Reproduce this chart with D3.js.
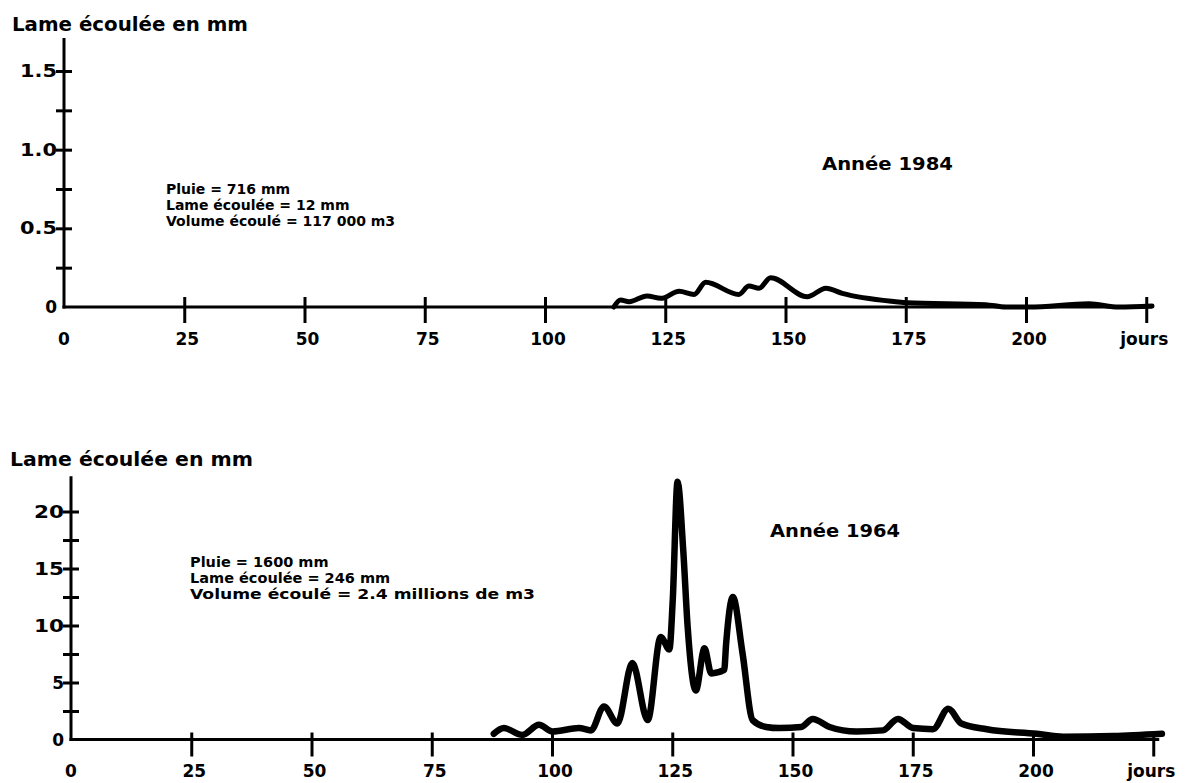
<!DOCTYPE html>
<html>
<head>
<meta charset="utf-8">
<script src="https://cdn.jsdelivr.net/npm/d3@7"></script>
<style>
  html, body { margin: 0; padding: 0; background: #fff; }
  svg { display: block; }
  text { font-family: "DejaVu Sans", "Liberation Sans", sans-serif; font-weight: bold; fill: #000; }
</style>
</head>
<body>
<svg id="chart" width="1188" height="783"></svg>
<script>
// Daily runoff depth (mm) read as (day, value) pairs
const days1984 = [114.3, 115.7, 117.5, 121.2, 124.1, 127.9, 131.0, 133.4, 140.3, 142.4, 144.5, 146.9, 154.5, 158.4, 161.8, 172.9, 175.3, 191.6, 195.8, 200.6, 213.1, 219.3, 226.2];
const runoff1984 = [0, 0.045, 0.034, 0.07, 0.055, 0.10, 0.08, 0.157, 0.08, 0.133, 0.119, 0.186, 0.065, 0.119, 0.087, 0.034, 0.027, 0.015, 0, 0, 0.02, 0, 0.006];

const days1964 = [87.9, 90.0, 93.8, 97.3, 100.1, 105.6, 108.1, 110.8, 113.6, 116.7, 119.9, 122.6, 124.4, 125.1, 126.1, 127.3, 128.2, 129.9, 131.7, 133.1, 135.8, 136.2, 137.6, 139.6, 141.7, 144.5, 147.3, 151.8, 154.2, 157.7, 163.3, 168.8, 171.9, 175.1, 179.2, 182.4, 185.1, 190.4, 200.8, 206.3, 216.7, 226.8];
const runoff1964 = [0.5, 1.0, 0.4, 1.3, 0.7, 1.0, 0.8, 2.9, 1.4, 6.7, 1.7, 9.0, 7.9, 12.2, 22.6, 16.5, 9.9, 4.3, 8.0, 5.8, 6.1, 8.4, 12.5, 7.6, 1.7, 1.1, 1.0, 1.1, 1.8, 1.1, 0.7, 0.8, 1.8, 1.0, 0.9, 2.7, 1.4, 0.9, 0.5, 0.25, 0.3, 0.5];

// Axis ticks and labels
const xTickDays = [25, 50, 75, 100, 125, 150, 175, 200, 225];
const xTickLabels = ["25", "50", "75", "100", "125", "150", "175", "200", "jours"];
const yTicks1984 = [0.25, 0.5, 0.75, 1.0, 1.25, 1.5];
const yLabels1984 = [[0, "0"], [0.5, "0.5"], [1.0, "1.0"], [1.5, "1.5"]];
const yTicks1964 = [2.5, 5, 7.5, 10, 12.5, 15, 17.5, 20];
const yLabels1964 = [[0, "0"], [5, "5"], [10, "10"], [15, "15"], [20, "20"]];

// Text blocks
const yTitle = "Lame écoulée en mm";
const stats1984 = ["Pluie = 716 mm", "Lame écoulée = 12 mm", "Volume écoulé = 117 000 m3"];
const stats1964 = ["Pluie = 1600 mm", "Lame écoulée = 246 mm", "Volume écoulé = 2.4 millions de m3"];
const year1984 = "Année 1984";
const year1964 = "Année 1964";

const svg = d3.select("#chart");

function panel(cfg) {
  const g = svg.append("g");
  const x = d3.scaleLinear().domain([0, 225]).range(cfg.xRange);
  const y = d3.scaleLinear().domain([0, cfg.yRef]).range(cfg.yRange);

  // y axis line with ticks crossing it
  const yAxis = d3.axisLeft(y).tickValues(cfg.yTicks).tickSize(0).tickFormat("");
  const ya = g.append("g").attr("transform", `translate(${x(0)},0)`).call(yAxis);
  ya.select(".domain").remove();
  ya.selectAll(".tick line").attr("x1", -8).attr("x2", 8)
    .attr("stroke", "#000").attr("stroke-width", 3);
  g.append("line")
    .attr("x1", x(0)).attr("x2", x(0))
    .attr("y1", y(0) + 1.5).attr("y2", y(cfg.yTop))
    .attr("stroke", "#000").attr("stroke-width", 3);

  // x axis line with ticks crossing it
  const xAxis = d3.axisBottom(x).tickValues(xTickDays).tickSize(0).tickFormat("");
  const xa = g.append("g").attr("transform", `translate(0,${y(0)})`).call(xAxis);
  xa.select(".domain").remove();
  xa.selectAll(".tick line").attr("y1", -cfg.tickUp).attr("y2", cfg.tickDown)
    .attr("stroke", "#000").attr("stroke-width", 3);
  g.append("line")
    .attr("x1", x(0) - 1.5).attr("x2", x(225) + 6)
    .attr("y1", y(0)).attr("y2", y(0))
    .attr("stroke", "#000").attr("stroke-width", 3);

  // y labels (wide, heavy lettering)
  g.selectAll(".ylab").data(cfg.yLabels).enter().append("text")
    .attr("x", x(0) - 7).attr("y", d => y(d[0]) + 6)
    .attr("text-anchor", "end").style("font-size", "17px")
    .each(function (d) {
      const t = d3.select(this).text(d[1]);
      if (d[1].length > 1) {
        t.attr("textLength", d[1].length === 3 ? 37 : 30)
         .attr("lengthAdjust", "spacingAndGlyphs");
      }
    });

  // x labels
  g.append("text").attr("x", x(0)).attr("y", cfg.xLabelY)
    .attr("text-anchor", "middle").style("font-size", "17px").text("0");
  g.selectAll(".xlab").data(xTickDays).enter().append("text")
    .attr("x", (d, i) => x(d) + (i === xTickDays.length - 1 ? -2 : 3))
    .attr("y", cfg.xLabelY)
    .attr("text-anchor", "middle").style("font-size", "17px")
    .text((d, i) => xTickLabels[i]);

  // axis title
  g.append("text").attr("x", cfg.titleX).attr("y", cfg.titleY)
    .style("font-size", "19px")
    .attr("textLength", cfg.titleLen).attr("lengthAdjust", "spacingAndGlyphs")
    .text(yTitle);

  // statistics block
  g.selectAll(".stat").data(cfg.stats).enter().append("text")
    .attr("x", cfg.statX).attr("y", (d, i) => cfg.statY + i * 16)
    .style("font-size", cfg.statSize)
    .each(function (d, i) {
      const t = d3.select(this).text(d);
      if (cfg.statLen[i]) t.attr("textLength", cfg.statLen[i]).attr("lengthAdjust", "spacingAndGlyphs");
    });

  // year label
  g.append("text").attr("x", cfg.yearX).attr("y", cfg.yearY)
    .style("font-size", "17px")
    .attr("textLength", cfg.yearLen).attr("lengthAdjust", "spacingAndGlyphs")
    .text(cfg.year);

  // runoff hydrograph
  const pts = cfg.days.map((d, i) => [d, cfg.values[i]]);
  const line = d3.line().x(d => x(d[0])).y(d => y(d[1])).curve(d3.curveMonotoneX);
  g.append("path").datum(pts)
    .attr("d", line)
    .attr("fill", "none").attr("stroke", "#000")
    .attr("stroke-width", cfg.lineW)
    .attr("stroke-linejoin", "round").attr("stroke-linecap", "round");
}

panel({
  xRange: [64, 64 + 4.81 * 225],
  yRef: 1.5, yRange: [307, 71], yTop: 1.71,
  yTicks: yTicks1984, yLabels: yLabels1984,
  tickUp: 10, tickDown: 16, xLabelY: 345,
  titleX: 12, titleY: 31, titleLen: 236,
  stats: stats1984, statX: 166, statY: 194, statLen: [0, 0, 0], statSize: "14px",
  year: year1984, yearX: 822, yearY: 170, yearLen: 131,
  days: days1984, values: runoff1984, lineW: 5
});

panel({
  xRange: [71, 71 + 4.81 * 225],
  yRef: 20, yRange: [739.5, 511.5], yTop: 23.1,
  yTicks: yTicks1964, yLabels: yLabels1964,
  tickUp: 7, tickDown: 17, xLabelY: 777,
  titleX: 10, titleY: 466, titleLen: 243,
  stats: stats1964, statX: 190, statY: 567, statLen: [0, 0, 345], statSize: "14.5px",
  year: year1964, yearX: 770, yearY: 537, yearLen: 130,
  days: days1964, values: runoff1964, lineW: 6.5
});
</script>
</body>
</html>
